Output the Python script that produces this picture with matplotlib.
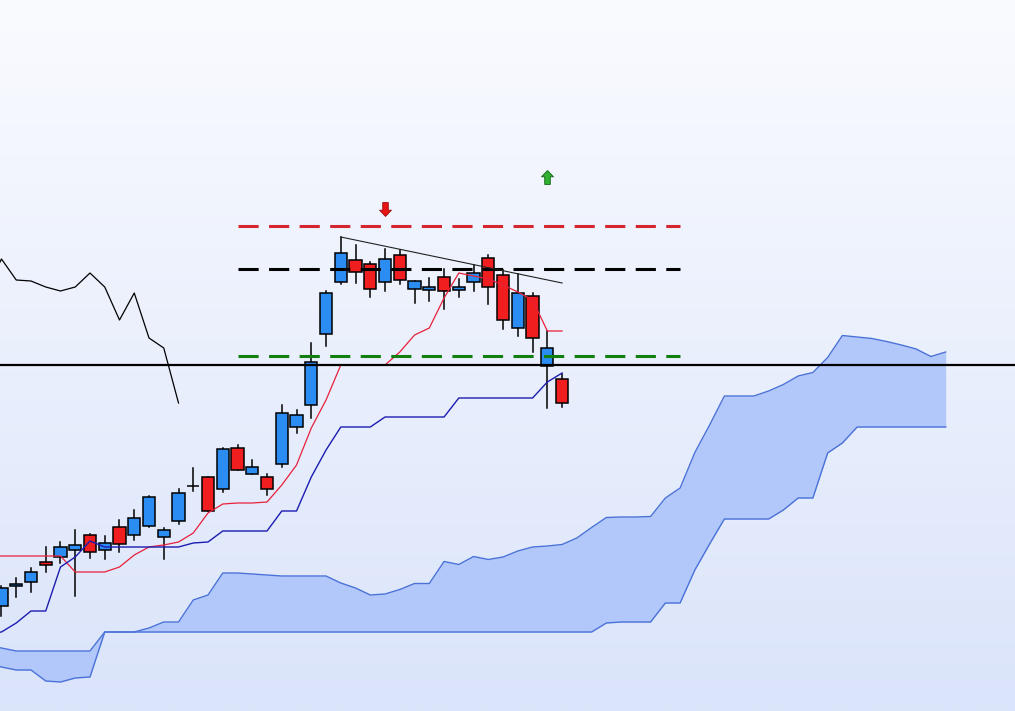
import numpy as np
import matplotlib.pyplot as plt
from matplotlib.patches import Rectangle
from matplotlib.path import Path

# Candles (price units, 39 bars)
opens = [105, 125, 129, 149, 154, 161, 176, 161, 184, 176, 185, 174, 190, 225, 234, 222, 263, 237, 234, 247,
         284, 306, 377, 429, 451, 447, 429, 456, 422, 421, 434, 421, 429, 453, 436, 383, 415, 345, 332]
highs = [125, 133, 143, 164, 169, 181, 177, 175, 191, 201, 215, 183, 222, 243, 234, 263, 266, 251, 237, 306,
         301, 368, 420, 474, 466, 449, 462, 461, 430, 433, 442, 432, 446, 456, 441, 437, 418, 380, 337]
lows = [95, 114, 119, 139, 148, 115, 153, 152, 159, 171, 184, 152, 187, 220, 200, 219, 241, 237, 216, 244,
        278, 293, 365, 427, 428, 414, 420, 427, 408, 410, 402, 414, 420, 407, 382, 375, 359, 303, 304]
closes = [123, 127, 139, 146, 164, 166, 159, 168, 167, 193, 214, 181, 218, 225, 200, 262, 241, 244, 222, 298,
          296, 349, 418, 458, 439, 422, 452, 431, 430, 424, 420, 424, 438, 424, 391, 418, 373, 363, 308]

# Ichimoku lines; first value is the bar just left of the window
tenkan = [155, 155, 155, 155, 155, 155, 139, 139, 139, 144, 156, 164, 166, 169, 178, 198, 207, 208, 208, 209,
          226, 246, 283, 311, 346, 346, 346, 346, 359, 376, 383, 413, 438, 435, 432, 426, 419, 411, 380, 380]
kijun = [77, 79, 88, 100, 100, 144, 154, 170, 164, 164, 164, 164, 164, 164, 168, 169, 180, 180, 180, 180,
         200, 200, 234, 261, 284, 284, 284, 294, 294, 294, 294, 294, 313, 313, 313, 313, 313, 313, 329, 338]
# senkou A for bars -1..24 (the rest comes from tenkan/kijun)
senkou_a_early = [65, 63, 60, 60, 60, 60, 60, 60, 79, 79, 79, 83, 89, 89, 111, 116, 138, 138, 137, 136,
                  135, 135, 135, 135, 128, 123]
# senkou B for bars -1..64
senkou_b = [48, 44, 41, 41, 30, 29, 33, 34] + [79] * 34 + \
           [88, 89, 89, 89, 108, 108, 141, 167, 192, 192, 192, 192, 201, 213, 213, 258, 268] + [284] * 7

shift = 26
support = 346           # solid line
stop_level = 485        # red dashed
entry_level = 442       # black dashed
target_level = 355      # green dashed
level_span = [16, 46]
trend_x = [23, 38]
trend_y = [474, 428]
sell_signal = (26, 502)
buy_signal = (37, 534)

n = len(closes)
bars = np.arange(n)
ind_x = np.arange(-1, n)
senkou_a = np.concatenate([senkou_a_early, (np.array(tenkan) + np.array(kijun)) / 2])
cloud_x = np.arange(-1, n + shift)

fig = plt.figure(figsize=(10.15, 7.11), dpi=100)
ax = fig.add_axes([0, 0, 1, 1])
ax.set_xlim(-0.1, 68.7)
ax.set_ylim(0, 711)
ax.axis('off')

# background gradient
grad = np.linspace(0, 1, 256).reshape(-1, 1)
bg = np.zeros((256, 1, 3))
top = np.array([0xfa, 0xfb, 0xff]) / 255
bot = np.array([0xda, 0xe4, 0xfa]) / 255
bg[:, 0, :] = top * (1 - grad) + bot * grad
ax.imshow(bg, extent=[0, 1, 0, 1], transform=ax.transAxes, aspect='auto', zorder=0)

# kumo
ax.fill_between(cloud_x, senkou_a, senkou_b, color='#b3c8fa', lw=0, zorder=1)
ax.plot(cloud_x, senkou_a, color='#4a72d8', lw=1.0, zorder=2)
ax.plot(cloud_x, senkou_b, color='#4a72d8', lw=1.0, zorder=2)

# candles
w = 0.83
for i in bars:
    o, h, l, c = opens[i], highs[i], lows[i], closes[i]
    ax.plot([i, i], [l, h], color='black', lw=1.1, zorder=3)
    col = '#2b8cf2' if c >= o else '#f01e1e'
    ax.add_patch(Rectangle((i - w / 2, min(o, c)), w, abs(c - o), facecolor=col,
                           edgecolor='black', lw=1.1, zorder=4))

# indicator lines
ax.plot(ind_x, tenkan, color='#e8203a', lw=0.9, zorder=5)
ax.plot(ind_x, kijun, color='#1c1cb0', lw=1.0, zorder=5)
ax.plot(bars - shift, closes, color='black', lw=0.9, zorder=5)

# levels and trendline
ax.axhline(support, color='black', lw=1.6, zorder=6)
for lvl, col in [(stop_level, '#d42630'), (entry_level, 'black'), (target_level, '#118011')]:
    ax.plot(level_span, [lvl, lvl], color=col, lw=2.2, ls=(0, (6.6, 3.4)), zorder=6)
ax.plot(trend_x, trend_y, color='#222222', lw=0.8, zorder=6)

# signal arrows
up = Path([(-0.2, -0.5), (-0.2, 0.05), (-0.43, 0.05), (0, 0.5), (0.43, 0.05), (0.2, 0.05), (0.2, -0.5),
           (-0.2, -0.5)], closed=True)
down = Path(up.vertices * [1, -1], closed=True)
ax.plot(*sell_signal, marker=down, ms=10, color='#e81414', mec='#9a0c0c', mew=0.6, zorder=7)
ax.plot(*buy_signal, marker=up, ms=10, color='#2fb02f', mec='#136013', mew=0.6, zorder=7)

fig.savefig('out.png', dpi=100)
